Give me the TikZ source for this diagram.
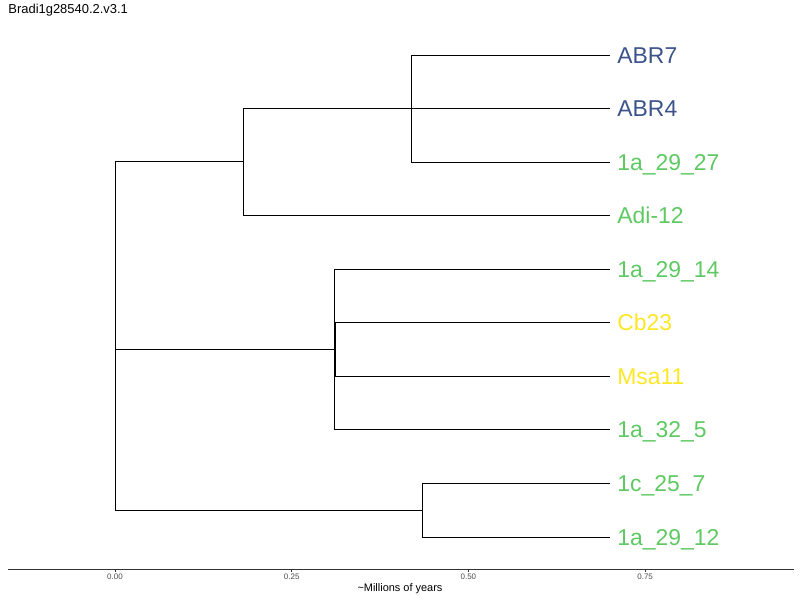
\documentclass[tikz,border=0pt]{standalone}
\usepackage{fontspec}
\setmainfont{Liberation Sans}
\definecolor{abrblue}{RGB}{59,82,139}
\definecolor{tipgreen}{RGB}{94,201,98}
\definecolor{tipyellow}{RGB}{253,231,37}
\begin{document}
\begin{tikzpicture}[x=1bp,y=-1bp,line width=0.8bp,
  tip/.style={anchor=west,inner ysep=0pt,inner xsep=7bp,text height=17.8bp,text depth=0pt,
    font=\fontsize{23}{25}\selectfont},
  ticklab/.style={font=\fontsize{8}{9}\selectfont,text=black!70}]
\useasboundingbox (0,0) rectangle (800,600);
\node[anchor=west,inner sep=0pt,font=\fontsize{13}{15}\selectfont] (title) at (8,10) {Bradi1g28540.2.v3.1};
% tips
\node[tip,text=abrblue]   (abr7)   at (610,55)  {ABR7};
\node[tip,text=abrblue]   (abr4)   at (610,108) {ABR4};
\node[tip,text=tipgreen]  (t2927)  at (610,162) {1a\_29\_27};
\node[tip,text=tipgreen]  (adi)    at (610,215) {Adi-12};
\node[tip,text=tipgreen]  (t2914)  at (610,269) {1a\_29\_14};
\node[tip,text=tipyellow] (cb)     at (610,322) {Cb23};
\node[tip,text=tipyellow] (msa)    at (610,376) {Msa11};
\node[tip,text=tipgreen]  (t325)   at (610,429) {1a\_32\_5};
\node[tip,text=tipgreen]  (t257)   at (610,483) {1c\_25\_7};
\node[tip,text=tipgreen]  (t2912)  at (610,537) {1a\_29\_12};
% inner nodes
\coordinate (root) at (115,340);
\coordinate (na) at (243,161.5);
\coordinate (nb) at (411,108);
\coordinate (nc) at (334,349);
\coordinate (nd) at (335,349);
\coordinate (ne) at (422,510);
\draw (root) |- (na);
\draw (root) |- (nc);
\draw (root) |- (ne);
\draw (na) |- (nb);
\draw (na) |- (adi.west);
\draw (nb) |- (abr7.west);
\draw (nb) -- (abr4.west);
\draw (nb) |- (t2927.west);
\draw (nc) |- (t2914.west);
\draw (nc) -- (nd);
\draw (nc) |- (t325.west);
\draw (nd) |- (cb.west);
\draw (nd) |- (msa.west);
\draw (ne) |- (t257.west);
\draw (ne) |- (t2912.west);
% axis
\draw[black!80] (8,569) coordinate (ax0) -- (794,569) coordinate (ax1);
\foreach \v/\t in {0/0.00,1/0.25,2/0.50,3/0.75}{
  \draw[black!80,line width=0.5bp] (115+\v*176.7,569) -- ++(0,3);
  \node[ticklab] at (115+\v*176.7,577) {\t};
}
\node[font=\fontsize{11}{13}\selectfont] (axtitle) at (400,589) {\textasciitilde Millions of years};
\end{tikzpicture}
\end{document}
